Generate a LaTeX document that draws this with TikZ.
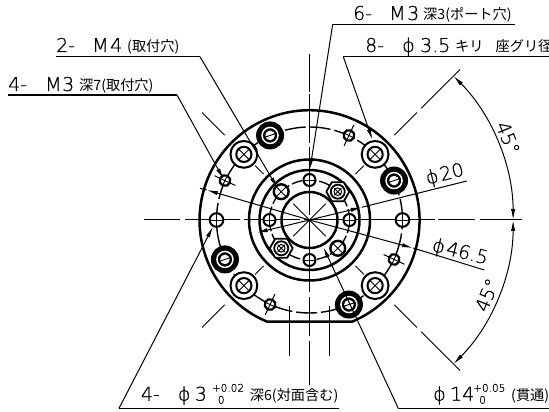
\documentclass[tikz,border=0pt]{standalone}
\usepackage{fontspec}
\setmainfont[FakeBold=0.6]{DejaVu Sans ExtraLight}
\newfontfamily\jpf{Noto Sans CJK JP}
\usetikzlibrary{arrows.meta,calc}
\tikzset{
  lead/.style={line width=1pt,black},
  under/.style={line width=1.3pt,black},
  arw/.style={-{Latex[length=11pt,width=4.2pt]}},
  ctr/.style={line width=1pt,black},
  heavy/.style={line width=2.5pt,black},
  lab/.style={anchor=base west,inner sep=0pt,font=\fontsize{19}{19}\selectfont},
  rlab/.style={inner sep=0pt,font=\fontsize{19}{19}\selectfont},
}
\newcommand{\jp}[1]{{\jpf\fontsize{14.2}{14.2}\selectfont #1}}
\newcommand{\chunk}[2]{\makebox[#1pt][l]{#2}}
\newcommand{\tol}[2]{\makebox[38pt][l]{\rlap{\raisebox{9pt}{\fontsize{10.5}{10.5}\selectfont #1}}\hspace{6pt}\raisebox{-3pt}{\fontsize{10.5}{10.5}\selectfont #2}}}
\begin{document}
\begin{tikzpicture}[x=1pt,y=1pt]
\useasboundingbox (0,0) rectangle (549,412);
\fill[white] (0,0) rectangle (549,412);
\coordinate (C) at (309.5,192);
% centre lines
\foreach \a/\b in {144/180,185/240,244/300,304/405,410/435,438/475,480/522}
  \draw[ctr] (\a,192) -- (\b,192);
\foreach \a/\b in {54/92,94/143,147/215,220/292,297/336,341/385}
  \draw[ctr] (309.5,412-\a) -- (309.5,412-\b);
\foreach \ang in {45,135,225,315}{
  \draw[ctr] ($(C)+(\ang:0)$) -- ($(C)+(\ang:23)$);
  \draw[ctr] ($(C)+(\ang:65)$) -- ($(C)+(\ang:77)$);
  \draw[ctr] ($(C)+(\ang:120)$) -- ($(C)+(\ang:152)$);
}
\draw[ctr] ($(C)+(45:158)$) -- ($(C)+(45:213)$);
\draw[ctr] ($(C)+(-45:158)$) -- ($(C)+(-45:213)$);
\draw[ctr] (289.5,106) -- (289.5,56);
\draw[ctr] (329.5,106) -- (329.5,56);
% body
\draw[heavy] ($(C)+(-42.5,-101.7)$) -- ($(C)+(42.5,-101.7)$)
  arc[start angle=-67.3,end angle=247.3,radius=110] -- cycle;
\draw[heavy] (C) circle[radius=60.5];
\draw[heavy] (C) circle[radius=50];
\draw[heavy] (C) circle[radius=28];
\draw[line width=1.4pt,dash pattern=on 21pt off 4pt] (C) circle[radius=93];
\draw[line width=1.4pt,dash pattern=on 11pt off 3pt] (C) circle[radius=40];
% counterbored holes
\foreach \ang in {45,135,225,315}{
  \begin{scope}[shift={($(C)+(\ang:92.8)$)},rotate=45]
    \fill[white] (0,0) circle[radius=13.4];
    \draw[line width=2pt] (0,0) circle[radius=13.4];
    \draw[line width=2pt] (0,0) circle[radius=7.6];
    \draw[line width=0.9pt] (-7.5,0) -- (7.5,0) (0,-7.5) -- (0,7.5);
  \end{scope}
}
% small holes on the outer pitch circle
\foreach \ang in {0,180}{
  \begin{scope}[shift={($(C)+(\ang:93)$)}]
    \fill[white] (0,0) circle[radius=6.8];
    \draw[line width=2pt] (0,0) circle[radius=6.8];
    \draw[line width=0.9pt] (-6,0) -- (6,0) (0,-6) -- (0,6);
  \end{scope}
}
\foreach \ang in {65,155,245,335}{
  \begin{scope}[shift={($(C)+(\ang:93.3)$)},rotate=\ang]
    \draw[line width=1pt] (-11.5,0) -- (11.5,0);
    \fill[white] (0,0) circle[radius=5.4];
    \draw[line width=2.2pt] (0,0) circle[radius=5.4];
    \draw[line width=0.9pt] (-4.5,0) -- (4.5,0) (0,-4.5) -- (0,4.5);
  \end{scope}
}
% black ringed holes
\foreach \ang in {115,25,205,295}{
  \begin{scope}[shift={($(C)+(\ang:93.3)$)}]
    \fill[black] (0,0) circle[radius=14];
    \draw[white,line width=1.5pt] (0,0) circle[radius=8];
    \fill[white] (0,0) circle[radius=4.8];
    \draw[line width=0.9pt] (-4.5,-1.5) -- (4.5,1.5);
  \end{scope}
}
% inner holes
\foreach \ang in {0,90,180,270}{
  \begin{scope}[shift={($(C)+(\ang:40)$)}]
    \fill[white] (0,0) circle[radius=6];
    \draw[line width=2pt] (0,0) circle[radius=6];
    \draw[line width=0.9pt] (-5.5,0) -- (5.5,0) (0,-5.5) -- (0,5.5);
  \end{scope}
}
\foreach \ang in {135,315}{
  \begin{scope}[shift={($(C)+(\ang:40)$)},rotate=45]
    \fill[white] (0,0) circle[radius=7.4];
    \draw[line width=2.4pt] (0,0) circle[radius=7.4];
    \draw[line width=0.9pt] (-7,0) -- (7,0) (0,-7) -- (0,7);
  \end{scope}
}
\foreach \ang in {45,225}{
  \begin{scope}[shift={($(C)+(\ang:40)$)}]
    \fill[white] (-11.5,0) -- (-6,-9.5) -- (6,-9.5) -- (11.5,0) -- (6,9.5) -- (-6,9.5) -- cycle;
    \draw[line width=1.8pt,line join=round] (-11.5,0) -- (-6,-9.5) -- (6,-9.5) -- (11.5,0) -- (6,9.5) -- (-6,9.5) -- cycle;
    \draw[line width=1.8pt] (0,0) circle[radius=7];
    \draw[line width=1pt] (0,0) circle[radius=3.8];
    \draw[line width=0.9pt] (-3.5,-3.5) -- (3.5,3.5) (-3.5,3.5) -- (3.5,-3.5);
  \end{scope}
}
% dimension targets
\coordinate (tM4) at (277.5,224);
\coordinate (tM3) at (223.5,233);
\coordinate (tP) at (310,243);
\coordinate (tCB) at (372.5,272);
\coordinate (tD3) at (213,185.3);
\coordinate (tD14) at (323.3,165);
\coordinate (u1a) at (56,355.3); \coordinate (u1b) at (200,355.3);
\coordinate (u2a) at (8,317); \coordinate (u2b) at (177,317);
\coordinate (u3a) at (515,387.7); \coordinate (u3b) at (332.7,387.7);
\coordinate (u4a) at (549,355.3); \coordinate (u4b) at (343.3,355.3);
\coordinate (u5a) at (339.3,3.7); \coordinate (u5b) at (119,3.7);
\coordinate (u6a) at (549,3.7); \coordinate (u6b) at (398.3,3.7);
\draw[under] (u1a) -- (u1b); \draw[lead,arw] (u1b) -- (tM4);
\draw[under] (u2a) -- (u2b); \draw[lead,arw] (u2b) -- (tM3);
\draw[under] (u3a) -- (u3b); \draw[lead,arw] (u3b) -- (tP);
\draw[under] (u4a) -- (u4b); \draw[lead,arw] (u4b) -- (tCB);
\draw[under] (u5a) -- (u5b); \draw[lead,arw] (u5b) -- (tD3);
\draw[under] (u6a) -- (u6b); \draw[lead,arw] (u6b) -- (tD14);
% diameter dimensions
\coordinate (d20a) at (466.7,231); \coordinate (d20t1) at (361.7,204.7); \coordinate (d20t2) at (256.7,179.3);
\draw[lead,arw] (C) -- (d20t2);
\draw[lead,arw] (C) -- (d20t1);
\draw[lead] (d20t1) -- (d20a);
\coordinate (d46a) at (484.3,142); \coordinate (d46b) at (200,223.7);
\coordinate (d46t1) at (413,164); \coordinate (d46t2) at (206.7,222);
\draw[lead,arw] (C) -- (d46t1);
\draw[lead,arw] (C) -- (d46t2);
\draw[lead] (d46t1) -- (d46a);
\draw[lead] (d46t2) -- (d46b);
% angle arcs
\draw[lead,{Latex[length=11pt,width=4.2pt]}-{Latex[length=11pt,width=4.2pt]}] ($(C)+(45:203.6)$) arc[start angle=45,end angle=0,radius=203.6];
\draw[lead,{Latex[length=11pt,width=4.2pt]}-{Latex[length=11pt,width=4.2pt]}] ($(C)+(-45:203.6)$) arc[start angle=-45,end angle=0,radius=203.6];
% texts
\node[lab] (t1) at (56,360) {\chunk{36}{2-}\chunk{18}{M}\chunk{17}{4}\jp{(取付穴)}};
\node[lab] (t2) at (8,321) {\chunk{37}{4-}\chunk{17}{M}\chunk{17}{3}\jp{深7(取付穴)}};
\node[lab] (t3) at (353,392) {\chunk{36}{6-}\chunk{18}{M}\chunk{16}{3}\jp{深3(ポート穴)}};
\node[lab] (t4) at (365,360) {\chunk{37}{8-}\chunk{18}{ϕ}\chunk{35}{3.5}\jp{キリ\hspace{12pt}座グリ径}};
\node[lab] (t5) at (140.7,11.3) {\chunk{37}{4-}\chunk{17}{ϕ}\chunk{17}{3}\tol{+0.02}{0}\jp{深6(対面含む)}};
\node[lab] (t6) at (433,11.3) {\chunk{17}{ϕ}\chunk{23}{14}\tol{+0.05}{0}\jp{(貫通)}};
\node[rlab,rotate=14] (t7) at (445,237) {ϕ\hspace{2pt}20};
\node[rlab,rotate=-14] (t8) at (460,159.3) {ϕ\hspace{2pt}46.5};
\node[rlab,rotate=-68] (t9) at (508,274) {45°};
\node[rlab,rotate=68] (t10) at (487,117) {45°};
\end{tikzpicture}
\end{document}
